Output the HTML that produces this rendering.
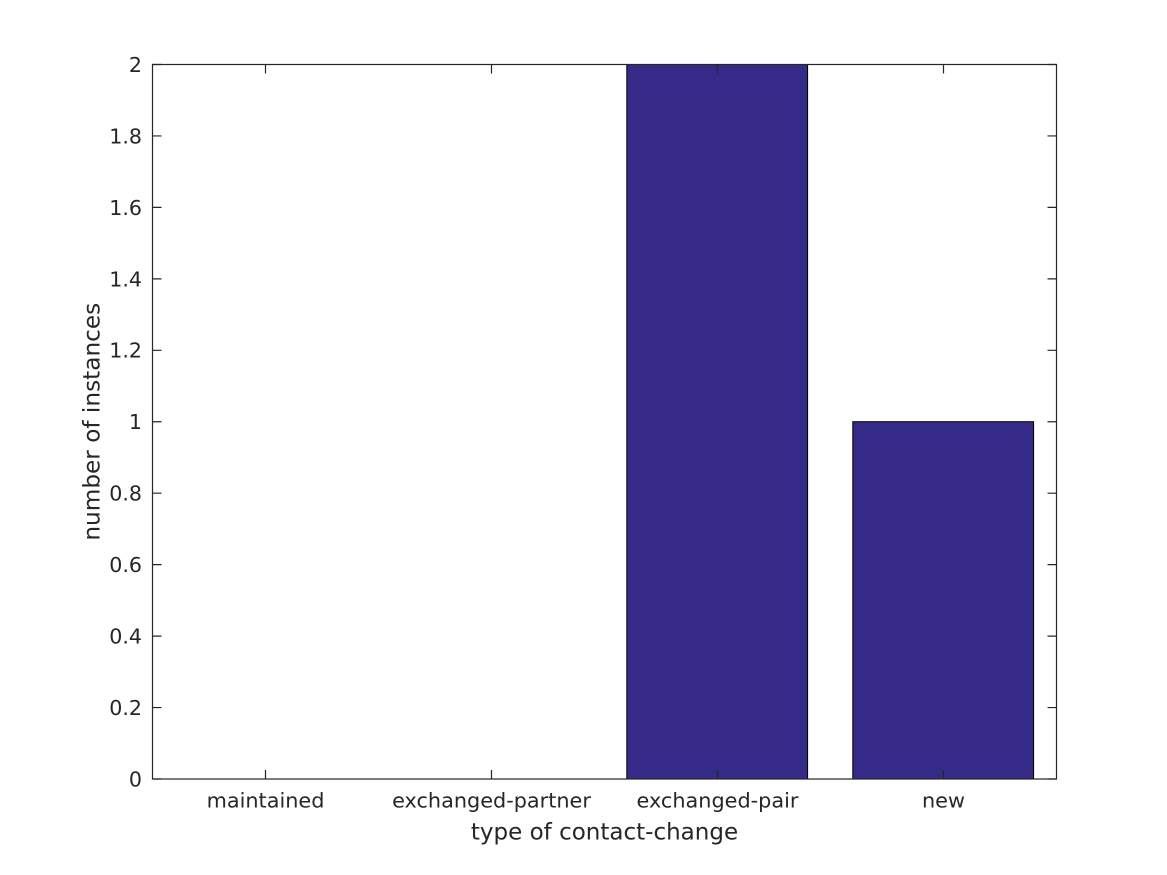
<!DOCTYPE html>
<html><head><meta charset="utf-8"><style>
html,body{margin:0;padding:0;background:#fff;}
svg{display:block;}
text{font-family:"DejaVu Sans","Liberation Sans",sans-serif;fill:#262626;}
</style></head><body>
<svg width="1167" height="875" viewBox="0 0 1167 875" xmlns="http://www.w3.org/2000/svg">
<rect width="1167" height="875" fill="#fff"/>
<!-- bars -->
<rect x="626.8" y="64.5" width="180.8" height="714.5" fill="#352a87" stroke="#000" stroke-width="1"/>
<rect x="852.8" y="421.7" width="180.8" height="357.3" fill="#352a87" stroke="#000" stroke-width="1"/>
<!-- axes box -->
<g stroke="#262626" stroke-width="1.2" fill="none">
<rect x="152.5" y="64.5" width="904" height="714.5"/>
<path d="M152.5 779h9M152.5 707.55h9M152.5 636.1h9M152.5 564.65h9M152.5 493.2h9M152.5 421.75h9M152.5 350.3h9M152.5 278.85h9M152.5 207.4h9M152.5 135.95h9M152.5 64.5h9"/>
<path d="M1056.5 779h-9M1056.5 707.55h-9M1056.5 636.1h-9M1056.5 564.65h-9M1056.5 493.2h-9M1056.5 421.75h-9M1056.5 350.3h-9M1056.5 278.85h-9M1056.5 207.4h-9M1056.5 135.95h-9M1056.5 64.5h-9"/>
<path d="M265.5 779v-9M491.5 779v-9M717.5 779v-9M943.5 779v-9"/>
<path d="M265.5 64.5v9M491.5 64.5v9M717.5 64.5v9M943.5 64.5v9"/>
</g>
<!-- y tick labels -->
<g font-size="20.6" text-anchor="end">
<text x="142" y="786.4">0</text>
<text x="142" y="715">0.2</text>
<text x="142" y="643.5">0.4</text>
<text x="142" y="572.1">0.6</text>
<text x="142" y="500.6">0.8</text>
<text x="142" y="429.1">1</text>
<text x="142" y="357.7">1.2</text>
<text x="142" y="286.3">1.4</text>
<text x="142" y="214.8">1.6</text>
<text x="142" y="143.4">1.8</text>
<text x="142" y="71.9">2</text>
</g>
<!-- x tick labels -->
<g font-size="20.8" text-anchor="middle">
<text x="265.5" y="807.5">maintained</text>
<text x="491.5" y="807.5">exchanged-partner</text>
<text x="717.5" y="807.5">exchanged-pair</text>
<text x="943.5" y="807.5">new</text>
</g>
<!-- axis labels -->
<text x="604.5" y="839.5" font-size="23" text-anchor="middle">type of contact-change</text>
<text transform="translate(99.5,421.7) rotate(-90)" x="0" y="0" font-size="23.2" text-anchor="middle">number of instances</text>
</svg>
</body></html>
